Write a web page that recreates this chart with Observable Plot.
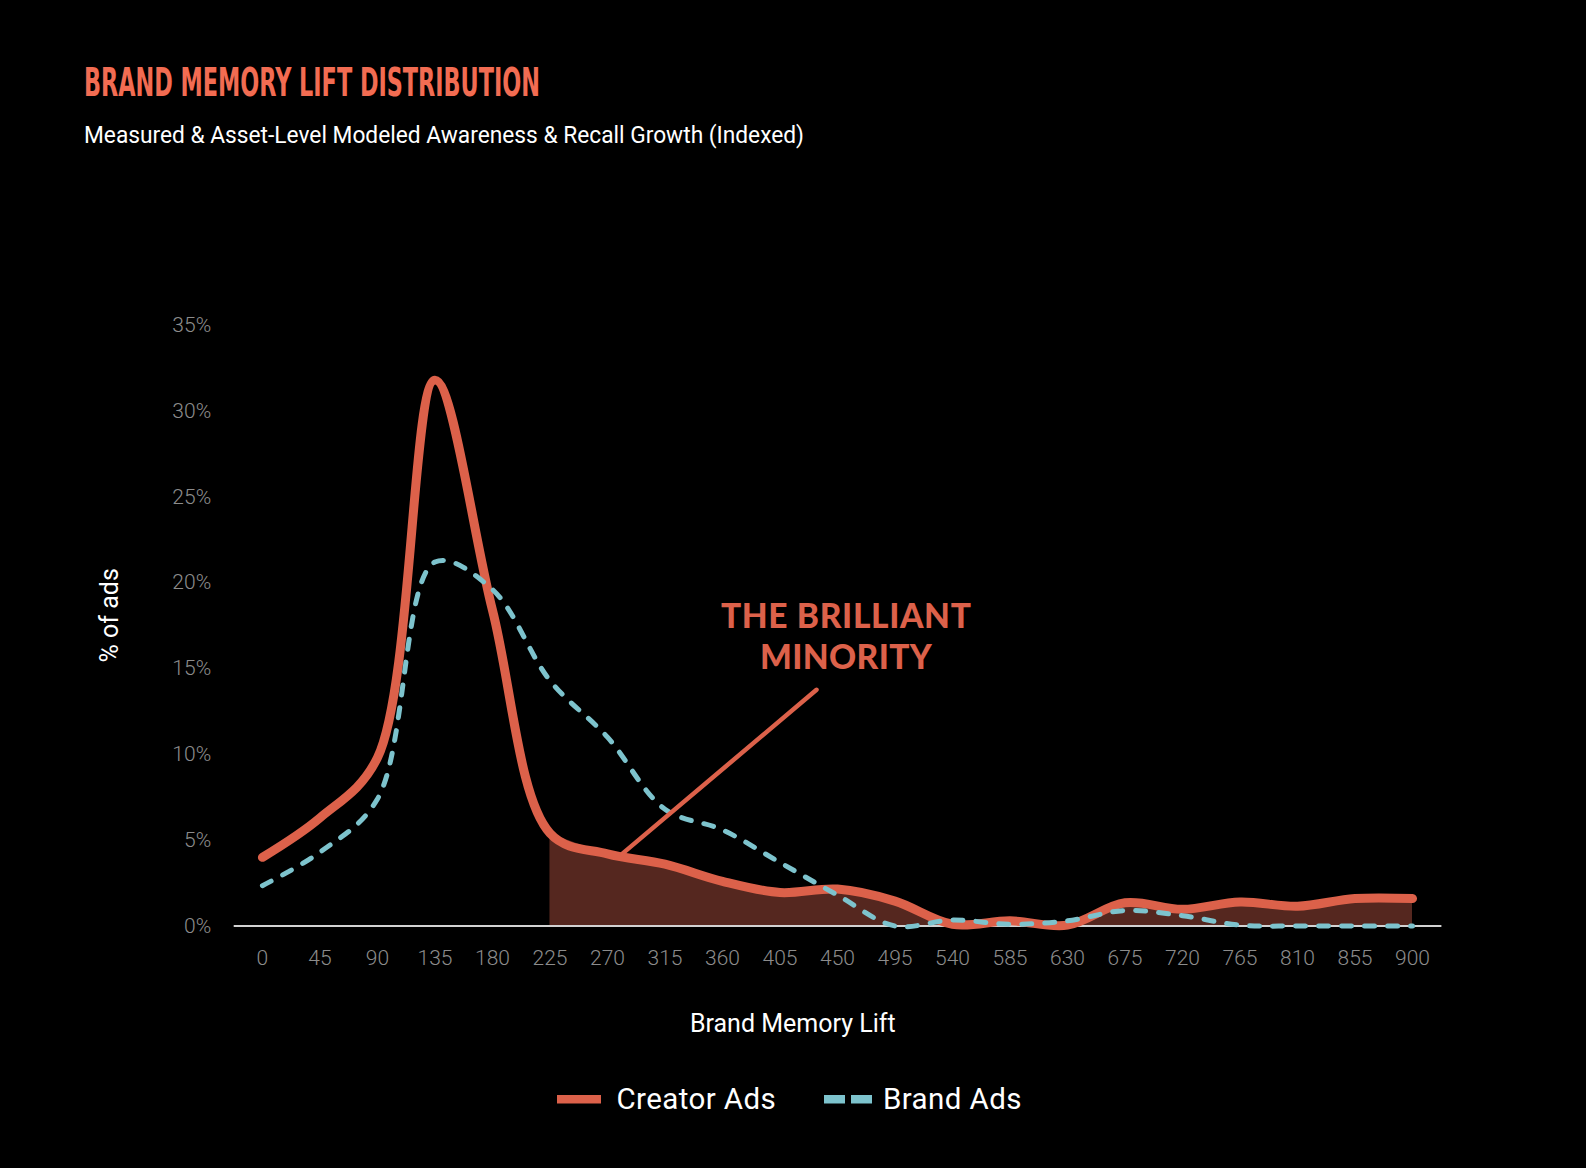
<!DOCTYPE html>
<html>
<head>
<meta charset="utf-8">
<script src="https://cdn.jsdelivr.net/npm/d3@7"></script>
<script src="https://cdn.jsdelivr.net/npm/@observablehq/plot@0.6"></script>
<style>
  html, body { margin: 0; padding: 0; background: #000; }
  #page { position: relative; width: 1586px; height: 1168px; background: #000; overflow: hidden; }
  #header { position: absolute; left: 0; top: 0; }
  #chart { position: absolute; left: 0; top: 170px; }
  #legend { position: absolute; left: 0; top: 1070px; }
</style>
</head>
<body>
<div id="page">
  <svg id="header" width="1586" height="170" xmlns="http://www.w3.org/2000/svg">
    <text x="84" y="96" fill="#f26c52" font-family="'DejaVu Sans Condensed', 'DejaVu Sans', sans-serif" font-weight="bold" font-size="39.5" textLength="456" lengthAdjust="spacingAndGlyphs">BRAND MEMORY LIFT DISTRIBUTION</text>
    <text x="84" y="142.7" fill="#ffffff" font-family="Roboto, sans-serif" font-size="24" textLength="720" lengthAdjust="spacingAndGlyphs">Measured &amp; Asset-Level Modeled Awareness &amp; Recall Growth (Indexed)</text>
  </svg>
  <div id="chart"></div>
  <svg id="legend" width="1586" height="60" xmlns="http://www.w3.org/2000/svg">
    <rect x="557" y="25" width="44" height="8.5" fill="#dc614a"></rect>
    <text x="616.5" y="38.5" fill="#ffffff" font-family="Roboto, sans-serif" font-size="29.5" letter-spacing="0.4">Creator Ads</text>
    <rect x="824" y="25" width="21" height="8.5" fill="#7dc3cd"></rect>
    <rect x="851" y="25" width="21" height="8.5" fill="#7dc3cd"></rect>
    <text x="883" y="38.5" fill="#ffffff" font-family="Roboto, sans-serif" font-size="29.5" letter-spacing="0.4">Brand Ads</text>
  </svg>
</div>
<script>
// ---- data ----
const lift = [0, 45, 90, 135, 180, 225, 270, 315, 360, 405, 450, 495, 540, 585, 630, 675, 720, 765, 810, 855, 900];
const creatorAds = [4.0, 6.3, 9.8, 31.8, 18.4, 5.4, 4.2, 3.6, 2.6, 1.95, 2.15, 1.45, 0.1, 0.3, 0.05, 1.35, 0.97, 1.4, 1.15, 1.6, 1.6];
const brandAds = [2.35, 4.3, 7.4, 21.2, 19.6, 14.3, 11.0, 6.8, 5.6, 3.7, 1.8, 0.0, 0.35, 0.1, 0.3, 0.9, 0.6, 0.05, 0, 0, 0];
const yTicks = [0, 5, 10, 15, 20, 25, 30, 35];
const shadeFrom = 225;
const annotationLines = [
  {x: 456.6, y: 18.0, text: "THE BRILLIANT", width: 250},
  {x: 456.6, y: 15.6, text: "MINORITY", width: 172}
];
const pointer = [{x1: 433.6, y1: 13.76, x2: 281.5, y2: 4.2}];
const yLabel = [{x: -119, y: 18.1, text: "% of ads"}];
const xLabel = [{x: 415, text: "Brand Memory Lift"}];

const red = "#dc614a";
const teal = "#7dc3cd";

const creatorRows = lift.map((x, i) => ({x, v: creatorAds[i]}));
const brandRows = lift.map((x, i) => ({x, v: brandAds[i]}));
const shadeRows = creatorRows.filter(d => d.x >= shadeFrom);

const chart = Plot.plot({
  width: 1586,
  height: 900,
  marginTop: 154.7,
  marginBottom: 144.5,
  marginLeft: 233.7,
  marginRight: 144.6,
  style: {background: "transparent", color: "#8c8c8c", fontFamily: "Roboto, sans-serif", fontSize: "21px", overflow: "visible"},
  x: {domain: [-22.1, 923]},
  y: {domain: [0, 35]},
  marks: [
    Plot.axisX({ticks: lift, tickSize: 0, tickPadding: 24.5, tickFormat: d => String(d), label: null, fill: "#8c8c8c", fontWeight: 300}),
    Plot.axisY({ticks: yTicks, tickSize: 0, tickPadding: 23, tickFormat: d => d + "%", label: null, fill: "#8c8c8c", fontWeight: 300}),
    Plot.areaY(shadeRows, {x: "x", y: "v", curve: "catmull-rom", fill: "#55271f"}),
    Plot.ruleY([0], {stroke: "#d2d2d2", strokeWidth: 2}),
    Plot.line(creatorRows, {x: "x", y: "v", curve: "catmull-rom", stroke: red, strokeWidth: 9, strokeLinecap: "round", strokeLinejoin: "round"}),
    Plot.line(brandRows, {x: "x", y: "v", curve: "catmull-rom", stroke: teal, strokeWidth: 5, strokeDasharray: "10,13", strokeLinecap: "round"}),
    Plot.link(pointer, {x1: "x1", y1: "y1", x2: "x2", y2: "y2", stroke: red, strokeWidth: 4.5, strokeLinecap: "round"}),
    Plot.text(annotationLines, {
      x: "x", y: "y", text: "text", fill: red, fontSize: 33.5, fontWeight: 900,
      fontFamily: "Lato, 'Open Sans', sans-serif", textAnchor: "middle", lineAnchor: "middle",
      render(index, scales, values, dimensions, context, next) {
        const g = next(index, scales, values, dimensions, context);
        d3.select(g).selectAll("text").each(function(i) {
          this.setAttribute("textLength", annotationLines[i].width);
          this.setAttribute("lengthAdjust", "spacing");
        });
        return g;
      }
    }),
    Plot.text(yLabel, {x: "x", y: "y", text: "text", rotate: -90, fill: "#ffffff", fontSize: 25, fontFamily: "Roboto, sans-serif"}),
    Plot.text(xLabel, {x: "x", frameAnchor: "bottom", dy: 106, text: "text", fill: "#ffffff", fontSize: 25, fontFamily: "Roboto, sans-serif"})
  ]
});
document.getElementById("chart").appendChild(chart);
</script>
</body>
</html>
